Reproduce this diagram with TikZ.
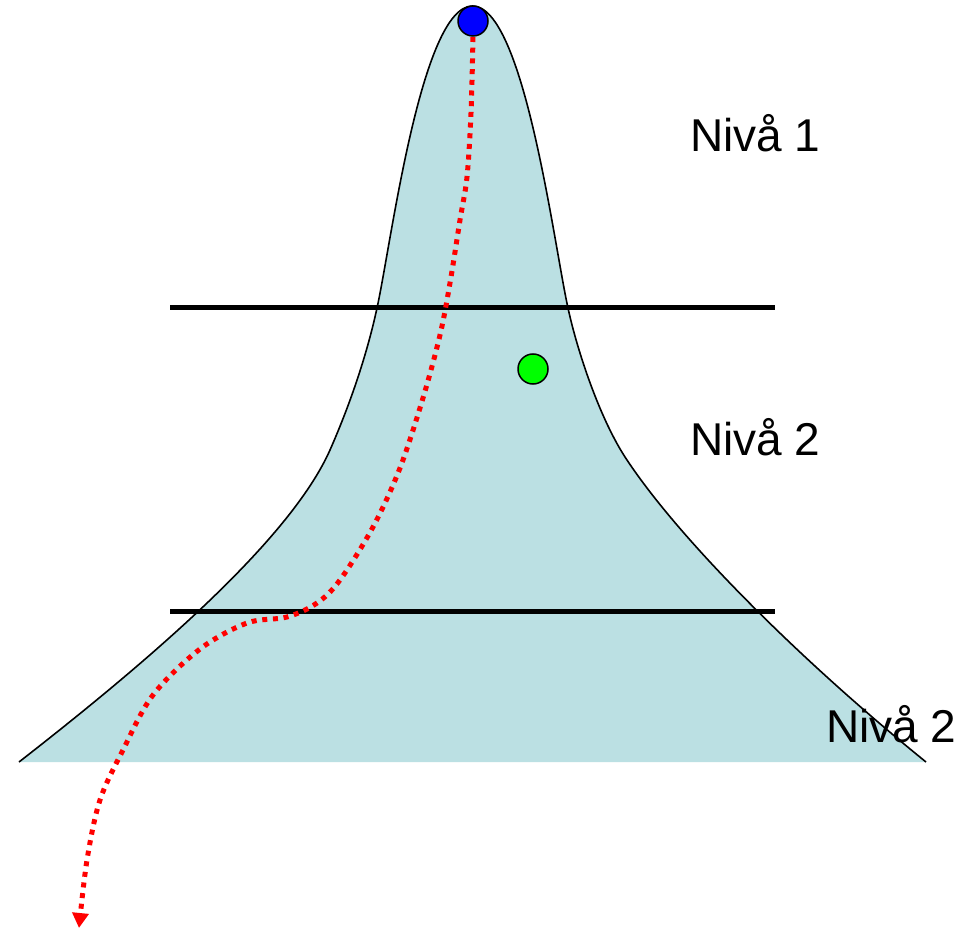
\documentclass[tikz,border=0pt]{standalone}
\usepackage{fontspec}
\setmainfont{Liberation Sans}
\usetikzlibrary{arrows.meta}
\definecolor{hill}{RGB}{187,224,227}
\definecolor{ballblue}{RGB}{0,0,255}
\definecolor{ballgreen}{RGB}{0,255,0}
\tikzset{
  levelline/.style={line width=5pt, black},
  outline/.style={line width=1.6pt, black},
  ball/.style={circle, draw=black, line width=1.5pt, minimum size=30pt, inner sep=0pt},
  lbl/.style={anchor=base west, inner sep=0pt, font=\fontsize{46}{52}\selectfont},
  route/.style={red, line width=5pt, dash pattern=on 5pt off 5.7pt, line cap=butt,
    -{Triangle[length=15pt,width=16pt]}}
}
\begin{document}
\begin{tikzpicture}[x=1pt,y=-1pt]
\useasboundingbox (0,0) rectangle (978,928);
\coordinate (bl) at (19,762);
\coordinate (br) at (926,762);
\coordinate (top) at (472.5,6);
\fill[hill] (bl) .. controls (150,660) and (290,540) .. (330,450)
  .. controls (352,400) and (368,350) .. (377,308)
  .. controls (391,245) and (421,6) .. (top)
  .. controls (524,6) and (554,245) .. (568,308)
  .. controls (577,350) and (600,420) .. (627,460)
  .. controls (680,540) and (800,660) .. (br) -- cycle;
\draw[outline] (bl) .. controls (150,660) and (290,540) .. (330,450)
  .. controls (352,400) and (368,350) .. (377,308)
  .. controls (391,245) and (421,6) .. (top)
  .. controls (524,6) and (554,245) .. (568,308)
  .. controls (577,350) and (600,420) .. (627,460)
  .. controls (680,540) and (800,660) .. (br);
% level lines
\coordinate (l1a) at (170,308); \coordinate (l1b) at (775,308);
\coordinate (l2a) at (170,611); \coordinate (l2b) at (775,611);
\draw[levelline] (l1a) -- (l1b);
\draw[levelline] (l2a) -- (l2b);
% balls
\node[ball, fill=ballgreen] (green) at (533,369) {};
\coordinate (start) at (473,37);
\coordinate (tip) at (79,928);
\draw[route] plot[smooth, tension=0.55] coordinates {(start) (471,113) (467,177) (460,220) (450,283) (440,335) (423,398) (400,468) (373,527) (340,580) (317,603) (287,617) (247,623) (200,649) (153,695) (123,750) (100,800) (87,860) (tip)};
\node[ball, fill=ballblue] (blue) at (473,21) {};
% labels
\node[lbl] (n1) at (690,152) {Nivå 1};
\node[lbl] (n2) at (690,455) {Nivå 2};
\node[lbl] (n3) at (826,742) {Nivå 2};
\end{tikzpicture}
\end{document}
